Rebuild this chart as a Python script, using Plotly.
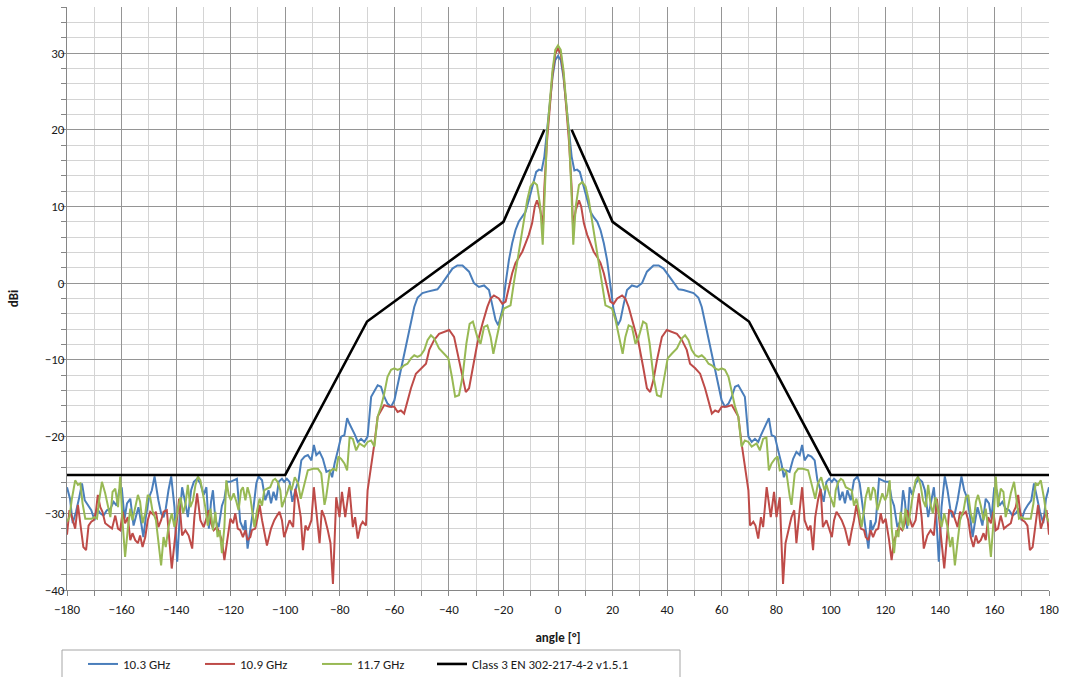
import plotly.graph_objects as go

# Measured half-pattern (0..180 deg); the measured pattern is symmetric about 0 deg.
BLUE_103 = [(0,29.6),(1,29.1),(2,26.9),(3,23.4),(4,20.0),(5,16.5),(6,14.7),(7,14.8),(8,14.5),(9.5,12.6),(10.7,10.8),(11.9,9.3),(13.1,8.6),(14.4,8.0),(15.6,6.9),(16.8,5.2),(18.0,3.0),(19.2,0.0),(20.4,-3.5),(21.9,-5.5),(22.9,-4.8),(24.1,-2.7),(25.3,-0.9),(27.1,-0.3),(29.0,-0.5),(30.8,0.0),(32.6,1.5),(35.0,2.3),(36.9,2.3),(38.7,1.9),(40.5,1.0),(42.4,0.0),(44.2,-0.8),(46.0,-0.9),(47.8,-1.1),(49.7,-1.3),(51.5,-1.9),(52.7,-3.1),(54.5,-6.1),(56.4,-9.2),(58.2,-12.2),(60.0,-15.3),(61.2,-16.1),(62.5,-15.7),(63.7,-14.8),(64.9,-13.5),(66.1,-13.3),(67.3,-14.0),(68.5,-14.8),(69.8,-20.0),(71.0,-20.7),(72.2,-20.3),(73.4,-20.7),(74.4,-19.8),(75.2,-19.2),(76.5,-18.3),(77.3,-17.6),(78.3,-19.8),(79.5,-20.0),(80.7,-21.8),(81.9,-23.5),(82.8,-25.3),(83.7,-24.4),(84.9,-24.6),(86.2,-22.9),(87.4,-22.0),(88.6,-22.4),(89.5,-21.1),(90.4,-23.1),(91.7,-22.4),(92.9,-22.6),(94.1,-23.1),(95.1,-25.7),(96.3,-27.0),(97.4,-28.5),(98.4,-25.9),(99.4,-25.5),(100.4,-25.9),(101.2,-25.5),(102.4,-25.9),(103.3,-28.3),(104.3,-27.2),(105.2,-28.7),(106.1,-27.0),(107.3,-28.3),(108.5,-25.7),(109.8,-25.2),(110.6,-26.1),(111.6,-29.2),(112.6,-31.6),(113.8,-34.6),(114.6,-30.9),(115.2,-32.2),(116.5,-31.1),(117.7,-25.5),(118.9,-25.7),(120.1,-25.9),(121.3,-25.9),(122.3,-28.1),(123.2,-29.0),(124.4,-31.8),(125.6,-30.9),(126.5,-27.0),(127.2,-28.5),(128.0,-32.0),(128.9,-26.6),(129.9,-27.6),(131.1,-26.1),(132.3,-25.5),(133.5,-25.9),(134.5,-27.0),(135.7,-30.5),(136.6,-28.7),(137.8,-26.6),(138.7,-30.5),(139.6,-36.3),(140.6,-29.2),(141.8,-25.2),(142.8,-27.0),(143.8,-29.4),(144.6,-30.5),(145.5,-30.0),(146.5,-28.3),(147.9,-25.2),(148.9,-27.0),(149.9,-27.9),(151.1,-30.5),(152.0,-33.1),(152.8,-31.3),(153.8,-29.2),(154.8,-30.5),(155.6,-31.6),(156.8,-28.1),(158.0,-28.7),(158.9,-30.7),(159.9,-26.8),(160.9,-27.0),(161.8,-29.0),(162.9,-28.5),(164.1,-29.4),(165.4,-29.6),(166.6,-30.3),(167.8,-30.0),(169.0,-29.4),(169.9,-30.9),(171.1,-29.6),(172.3,-28.9),(173.5,-28.3),(174.5,-26.1),(175.5,-27.9),(176.7,-29.8),(177.9,-31.3),(178.9,-28.1),(180,-26.6)]

RED_109 = [(0,30.6),(1,29.9),(2,27.3),(3,23.0),(4,18.6),(5,12.5),(5.5,7.5),(6.5,9.5),(7.7,10.8),(8.5,10.0),(9.5,7.8),(10.7,6.3),(11.9,5.2),(13.1,4.1),(14.4,3.4),(15.6,2.6),(16.8,1.3),(18.0,-0.5),(19.2,-2.4),(20.4,-2.7),(21.7,-2.0),(23.5,-1.6),(24.7,-2.0),(25.9,-3.1),(27.7,-5.3),(29.6,-7.9),(31.2,-10.9),(32.6,-13.7),(33.8,-14.2),(35.0,-12.6),(36.3,-10.0),(38.1,-7.0),(39.9,-6.1),(41.7,-6.3),(43.6,-6.6),(45.4,-7.4),(47.2,-8.7),(48.4,-10.5),(50.3,-11.1),(52.1,-11.8),(53.9,-13.7),(55.2,-15.4),(56.4,-17.0),(57.6,-16.6),(58.8,-16.8),(60.0,-16.1),(61.8,-16.1),(63.7,-15.9),(64.9,-16.6),(66.1,-17.4),(67.3,-20.9),(68.5,-23.9),(69.8,-27.0),(70.4,-31.6),(71.6,-31.1),(72.4,-31.6),(73.4,-33.3),(74.4,-30.5),(75.2,-31.8),(76.5,-26.6),(77.3,-28.7),(78.0,-30.5),(79.2,-27.2),(80.1,-30.5),(81.3,-27.9),(82.5,-39.2),(83.4,-33.9),(84.4,-32.2),(85.6,-30.5),(86.6,-29.6),(87.4,-33.9),(88.6,-29.6),(89.5,-26.6),(90.4,-30.9),(91.7,-32.2),(92.6,-31.6),(93.5,-34.8),(94.3,-30.5),(95.3,-28.3),(96.3,-26.8),(97.1,-31.8),(98.4,-30.9),(99.4,-32.0),(100.4,-33.1),(101.2,-30.9),(102.1,-29.8),(103.0,-30.3),(104.0,-30.9),(105.2,-32.0),(106.7,-34.2),(107.7,-32.2),(108.5,-30.9),(109.4,-28.9),(110.1,-30.5),(111.0,-32.0),(112.2,-32.2),(112.8,-33.1),(113.8,-33.5),(114.6,-32.2),(115.5,-33.1),(116.5,-32.2),(117.4,-32.0),(118.3,-30.0),(119.1,-31.3),(120.1,-30.7),(121.3,-33.3),(122.3,-36.1),(123.2,-33.5),(124.0,-32.9),(125.0,-31.8),(126.2,-32.2),(127.2,-31.3),(128.0,-29.6),(128.9,-30.7),(129.9,-31.8),(131.1,-30.9),(132.3,-27.4),(133.3,-30.5),(134.1,-34.6),(135.4,-32.9),(136.6,-32.2),(137.8,-32.9),(138.9,-28.1),(139.8,-30.9),(140.6,-33.9),(141.6,-37.2),(142.6,-33.1),(143.4,-29.6),(144.6,-29.8),(145.5,-30.9),(146.5,-31.8),(147.4,-29.8),(148.3,-30.2),(149.5,-29.8),(150.4,-30.9),(151.3,-33.1),(152.3,-34.4),(153.2,-32.9),(154.0,-33.9),(155.0,-33.5),(156.0,-32.6),(156.8,-33.5),(157.7,-30.5),(158.7,-31.3),(159.6,-29.8),(160.5,-32.2),(161.3,-32.0),(162.3,-30.3),(163.5,-32.0),(164.8,-31.6),(166.0,-31.3),(167.0,-29.8),(167.8,-29.2),(168.7,-27.6),(169.4,-29.8),(170.2,-30.9),(171.1,-31.1),(172.1,-31.6),(173.0,-34.8),(174.0,-34.4),(175.1,-31.3),(176.0,-28.9),(177.0,-32.0),(178.2,-30.5),(179.1,-29.6),(180,-32.8)]

GREEN_117 = [(0,31.0),(1,30.4),(2,27.8),(3,23.6),(4,19.5),(5,11.3),(5.6,5.0),(6.5,10.0),(7.7,12.8),(8.9,13.2),(10.1,12.6),(11.3,10.8),(12.5,8.2),(13.8,5.2),(15.0,2.6),(16.2,0.0),(17.4,-2.9),(18.6,-3.1),(19.8,-3.3),(21.1,-4.8),(22.3,-7.0),(23.7,-9.2),(24.7,-7.0),(25.9,-5.5),(27.1,-5.7),(28.4,-7.9),(29.6,-7.0),(31.2,-5.0),(32.4,-5.3),(33.6,-7.9),(35.0,-12.2),(36.3,-14.6),(37.7,-14.8),(38.9,-12.2),(40.2,-9.8),(41.7,-9.2),(43.6,-8.5),(45.4,-7.2),(46.6,-6.8),(47.8,-7.4),(49.0,-8.7),(50.3,-9.4),(51.5,-9.6),(52.7,-9.4),(53.9,-9.8),(55.2,-10.5),(56.4,-10.7),(57.6,-11.1),(58.8,-11.3),(60.0,-11.1),(61.2,-11.3),(62.5,-12.2),(63.7,-14.4),(64.9,-16.1),(66.1,-17.4),(67.3,-21.3),(68.5,-20.5),(69.8,-20.7),(71.0,-21.3),(72.8,-20.9),(74.0,-21.8),(75.2,-20.3),(76.4,-20.1),(77.3,-24.4),(78.3,-23.5),(79.5,-22.9),(80.5,-22.6),(81.3,-24.4),(82.5,-24.2),(83.7,-24.6),(85.0,-27.9),(85.6,-28.9),(86.8,-24.8),(88.0,-24.2),(89.8,-24.2),(91.7,-24.4),(92.9,-26.1),(94.3,-28.1),(95.3,-26.1),(96.5,-25.3),(97.7,-27.0),(98.4,-26.3),(99.4,-27.4),(100.4,-28.5),(101.2,-29.2),(101.8,-27.0),(102.8,-25.9),(103.7,-25.5),(104.5,-25.7),(105.5,-26.6),(106.7,-26.8),(107.7,-27.0),(108.5,-29.0),(109.4,-28.1),(110.4,-29.8),(111.3,-31.8),(112.2,-29.6),(112.8,-27.9),(113.8,-26.6),(114.6,-28.3),(115.5,-26.6),(116.2,-27.0),(117.1,-29.6),(117.9,-28.5),(118.9,-27.4),(119.9,-28.3),(120.7,-27.6),(121.6,-25.7),(122.3,-31.8),(123.2,-35.2),(124.0,-32.2),(124.8,-33.1),(125.6,-29.8),(126.5,-32.2),(127.4,-29.4),(128.4,-31.6),(129.3,-29.2),(130.1,-27.6),(131.1,-25.7),(132.0,-25.2),(132.9,-26.3),(133.8,-28.3),(134.8,-29.2),(135.7,-26.3),(136.6,-28.9),(137.4,-30.0),(138.4,-27.9),(139.4,-29.6),(140.6,-31.8),(141.6,-30.0),(142.8,-31.8),(143.8,-34.4),(144.6,-33.1),(145.5,-36.8),(146.5,-33.5),(147.4,-30.9),(148.7,-29.6),(149.5,-27.9),(150.4,-27.6),(151.3,-30.0),(152.3,-31.3),(153.2,-28.5),(154.0,-27.6),(155.0,-29.0),(156.0,-30.9),(156.8,-29.4),(157.7,-32.0),(158.7,-35.7),(159.6,-31.3),(160.5,-25.2),(161.3,-29.2),(162.3,-26.8),(163.3,-27.2),(164.1,-30.5),(165.0,-29.2),(166.0,-27.4),(167.2,-25.9),(168.2,-28.3),(169.0,-30.7),(169.9,-30.5),(170.9,-30.7),(172.1,-30.7),(173.3,-30.7),(174.3,-28.7),(175.1,-26.1),(176.0,-26.3),(177.0,-25.7),(178.2,-28.1),(179.1,-30.5),(180,-31.1)]

MASK_ANGLE = [-180, -100, -70, -20, -5, None, 5, 20, 70, 100, 180]
MASK_DBI = [-25, -25, -5, 8, 20, None, 20, 8, -5, -25, -25]

X_TICKS = list(range(-180, 181, 20))
Y_TICKS = list(range(-40, 31, 10))

SERIES = [
    ("10.3 GHz", BLUE_103, "#4a7ebb"),
    ("10.9 GHz", RED_109, "#be4b48"),
    ("11.7 GHz", GREEN_117, "#98b954"),
]


def full_pattern(half):
    right = sorted(half)
    left = [(-a, v) for a, v in reversed(right) if a != 0]
    pts = left + right
    return [a for a, _ in pts], [v for _, v in pts]


FONT = "Carlito, Lato, 'Open Sans', sans-serif"
TXT = "#1a1a1a"

fig = go.Figure()
for name, half, color in SERIES:
    xs, ys = full_pattern(half)
    fig.add_trace(go.Scatter(x=xs, y=ys, mode="lines", name=name, legend="legend",
                             line=dict(color=color, width=2)))
fig.add_trace(go.Scatter(x=MASK_ANGLE, y=MASK_DBI, mode="lines", legend="legend2",
                         name="Class 3 EN 302-217-4-2 v1.5.1",
                         line=dict(color="black", width=2.6), connectgaps=False))

W, H = 1065, 677
L, R, T, B = 67, 16, 7, 87
PW, PH = W - L - R, H - T - B


def px_x(px):
    return (px - L) / PW


def px_y(py):
    return (H - B - py) / PH


legend_common = dict(orientation="h", xanchor="left", yanchor="top",
                     bgcolor="rgba(0,0,0,0)", borderwidth=0,
                     font=dict(family=FONT, size=13, color=TXT))

fig.update_layout(
    width=W, height=H,
    margin=dict(l=L, r=R, t=T, b=B, autoexpand=False),
    paper_bgcolor="white", plot_bgcolor="white",
    font=dict(family=FONT, size=13, color=TXT),
    showlegend=True,
    legend=dict(x=px_x(83), y=px_y(649), entrywidth=72, entrywidthmode="pixels",
                **legend_common),
    legend2=dict(x=px_x(432), y=px_y(649), **legend_common),
    shapes=[dict(type="rect", xref="paper", yref="paper",
                 x0=px_x(62), x1=px_x(680), y0=px_y(650), y1=px_y(700),
                 line=dict(color="#a6a6a6", width=1), fillcolor="rgba(0,0,0,0)",
                 layer="above")],
    xaxis=dict(range=[-180, 180], tickvals=X_TICKS, ticks="outside", ticklen=5,
               tickcolor="#868686", showline=True, linecolor="#868686", linewidth=1,
               showgrid=True, gridcolor="#959595", gridwidth=1, zeroline=False,
               tickfont=dict(size=13), automargin=False, ticklabelstandoff=2,
               minor=dict(dtick=10, tick0=0, showgrid=True, gridcolor="#d4d4d4",
                          ticks="outside", ticklen=5, tickcolor="#868686"),
               title=dict(text="<b>angle [°]</b>", font=dict(size=13), standoff=17)),
    yaxis=dict(range=[-40, 36], tickvals=Y_TICKS, ticks="outside", ticklen=5,
               tickcolor="#868686", showline=True, linecolor="#868686", linewidth=1,
               showgrid=True, gridcolor="#959595", gridwidth=1, zeroline=False,
               tickfont=dict(size=13), automargin=False, ticklabelstandoff=-6,
               minor=dict(dtick=2, tick0=0, showgrid=True, gridcolor="#d4d4d4",
                          ticks="outside", ticklen=5, tickcolor="#868686"),
               title=dict(text="<b>dBi</b>", font=dict(size=13), standoff=23)),
)

fig.write_html("out.html", config={"displayModeBar": False},
               post_script="document.body.style.margin='0px';document.body.style.padding='0px';")
